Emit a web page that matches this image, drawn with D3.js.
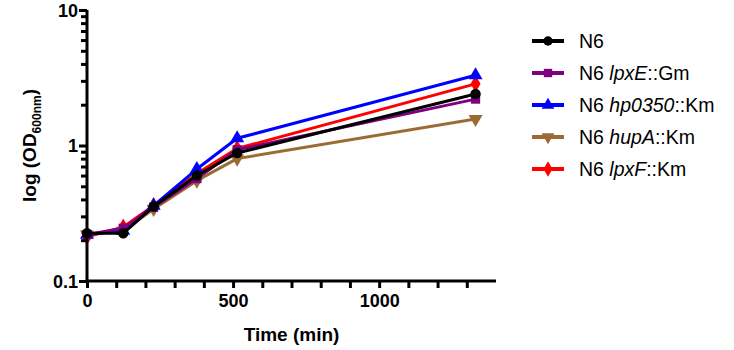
<!DOCTYPE html>
<html>
<head>
<meta charset="utf-8">
<script src="https://cdn.jsdelivr.net/npm/d3@7"></script>
<style>
  body { margin: 0; background: #fff; }
  text { font-family: "Liberation Sans", Arial, sans-serif; }
</style>
</head>
<body>
<div class="chart"></div>
<script>
var times = [0, 124, 228, 376, 514, 1330];

var seriesNames = ["N6", "lpxE", "hp0350", "hupA", "lpxF"];
var n6     = [0.225, 0.225, 0.355, 0.60, 0.88, 2.40];
var lpxE   = [0.22, 0.245, 0.35, 0.57, 0.93, 2.20];
var hp0350 = [0.22, 0.235, 0.36, 0.67, 1.13, 3.30];
var hupA   = [0.22, 0.235, 0.34, 0.55, 0.80, 1.57];
var lpxF   = [0.212, 0.25, 0.36, 0.62, 0.95, 2.85];

var xTicks = [0, 500, 1000];
var yTicks = [0.1, 1, 10];

var series = [
  {name: "N6", values: n6, color: "#000000", symbol: d3.symbolCircle, label: [["N6", false]]},
  {name: "lpxE", values: lpxE, color: "#800080", symbol: d3.symbolSquare, label: [["N6 ", false], ["lpxE", true], ["::Gm", false]]},
  {name: "hp0350", values: hp0350, color: "#0000ff", symbol: d3.symbolTriangle, label: [["N6 ", false], ["hp0350", true], ["::Km", false]]},
  {name: "hupA", values: hupA, color: "#9b6b33", symbol: "down", label: [["N6 ", false], ["hupA", true], ["::Km", false]]},
  {name: "lpxF", values: lpxF, color: "#ff0000", symbol: d3.symbolDiamond, label: [["N6 ", false], ["lpxF", true], ["::Km", false]]}
];

var margin = {top: 10, right: 238, bottom: 69, left: 87},
    width = 734 - margin.left - margin.right,
    height = 350 - margin.top - margin.bottom;

var svg = d3.select(".chart")
    .append("svg")
    .attr("width", 734)
    .attr("height", 350);

var g = svg.append("g")
    .attr("transform", "translate(" + margin.left + "," + margin.top + ")");

var x = d3.scaleLinear().domain([0, 1400]).range([0, width]);
var y = d3.scaleLog().domain([0.1, 10]).range([height, 0]);

function symbolPath(s, size) {
  if (s === "down") {
    return d3.symbol().type(d3.symbolTriangle).size(size)();
  }
  return d3.symbol().type(s).size(size)();
}

// lines and markers, N6 drawn last so it sits on top
var line = d3.line()
  .x(function(d, i){ return x(times[i]); })
  .y(function(d){ return y(d); });

var drawOrder = series.slice().reverse();
drawOrder.forEach(function(s) {
  g.append("path")
    .datum(s.values)
    .attr("fill", "none")
    .attr("stroke", s.color)
    .attr("stroke-width", 3)
    .attr("stroke-linejoin", "round")
    .attr("d", line);
  g.selectAll(null)
    .data(s.values)
    .enter().append("path")
    .attr("fill", s.color)
    .attr("d", symbolPath(s.symbol, 85))
    .attr("transform", function(d, i){
      return "translate(" + x(times[i]) + "," + y(d) + ")" + (s.symbol === "down" ? " rotate(180)" : "");
    });
});

// x axis
var xMinor = d3.range(0, 1400, 100);
var xAxis = g.append("g")
  .attr("transform", "translate(0," + height + ")")
  .call(d3.axisBottom(x).tickValues(xMinor).tickSize(7).tickPadding(6)
    .tickFormat(function(d){ return xTicks.indexOf(d) >= 0 ? d : ""; }));
xAxis.select(".domain").attr("d", "M-1.5,0H" + width).attr("stroke-width", 3);
xAxis.selectAll(".tick line").attr("stroke-width", 3);
xAxis.selectAll(".tick text").attr("font-size", 18).attr("font-weight", "bold").attr("fill", "#000");

// y axis
var yMinor = [];
[0.1, 1].forEach(function(b){ for (var k = 1; k < 10; k++) yMinor.push(b * k); });
yMinor.push(10);
var yAxis = g.append("g")
  .call(d3.axisLeft(y).tickValues(yMinor).tickSize(6).tickPadding(3)
    .tickFormat(function(d){ return yTicks.some(function(t){ return Math.abs(t - d) < 1e-9; }) ? d3.format("")(d) : ""; }));
yAxis.select(".domain").attr("d", "M0," + (height + 1.5) + "V0").attr("stroke-width", 3);
yAxis.selectAll(".tick line").attr("stroke-width", 3)
  .attr("x2", function(d){ return yTicks.some(function(t){ return Math.abs(t - d) < 1e-9; }) ? -8 : -6; });
yAxis.selectAll(".tick text").attr("font-size", 18).attr("font-weight", "bold").attr("fill", "#000")
  .attr("dy", "0.35em");

// axis titles
svg.append("text")
  .attr("x", margin.left + x(700))
  .attr("y", 341)
  .attr("text-anchor", "middle")
  .attr("font-size", 19)
  .attr("font-weight", "bold")
  .text("Time (min)");

var yt = svg.append("text")
  .attr("transform", "translate(36," + (margin.top + height / 2) + ") rotate(-90)")
  .attr("text-anchor", "middle")
  .attr("font-size", 19)
  .attr("font-weight", "bold");
yt.append("tspan").text("log (OD");
yt.append("tspan").attr("font-size", 12).attr("dy", 5).text("600nm");
yt.append("tspan").attr("dy", -5).text(")");

// legend
var legend = svg.append("g").attr("transform", "translate(532,41)");
series.forEach(function(s, i) {
  var row = legend.append("g").attr("transform", "translate(0," + (i * 32) + ")");
  row.append("line")
    .attr("x1", 0).attr("x2", 32)
    .attr("stroke", s.color).attr("stroke-width", 4);
  row.append("path")
    .attr("fill", s.color)
    .attr("d", symbolPath(s.symbol, 70))
    .attr("transform", "translate(16,0)" + (s.symbol === "down" ? " rotate(180)" : ""));
  var t = row.append("text")
    .attr("x", 47).attr("y", 0).attr("dy", "0.35em")
    .attr("font-size", 19.5);
  s.label.forEach(function(p) {
    t.append("tspan").attr("font-style", p[1] ? "italic" : "normal").text(p[0]);
  });
});
</script>
</body>
</html>
